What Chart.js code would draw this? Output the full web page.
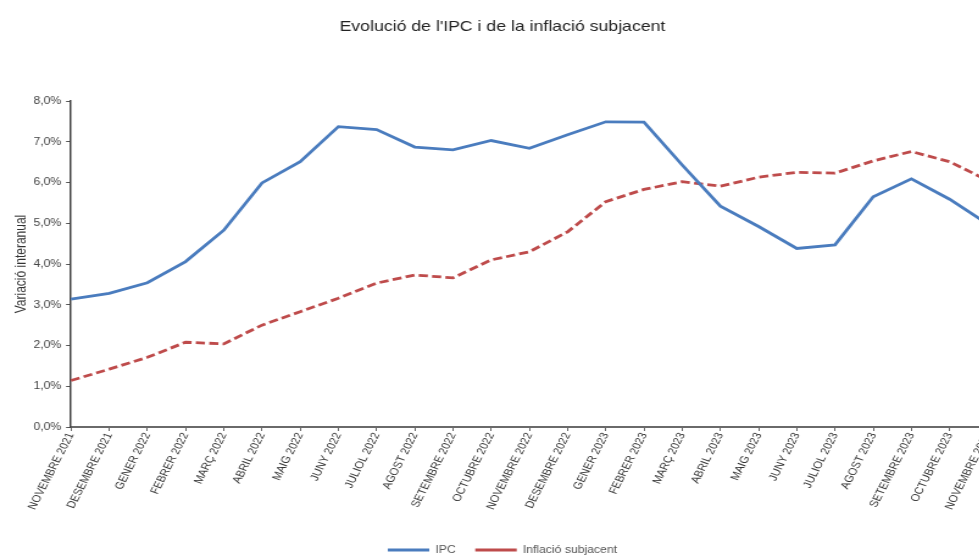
<!DOCTYPE html>
<html>
<head>
<meta charset="utf-8">
<script src="https://cdn.jsdelivr.net/npm/chart.js@4"></script>
<style>
  html, body { margin:0; padding:0; background:#fff; overflow:hidden; width:979px; height:557px; }
  #wrap { width:824px; height:557px; transform: scaleX(1.2195); transform-origin: 0 0; }
  #c { display:block; }
</style>
</head>
<body>
<div id="wrap"><canvas id="c" width="824" height="557"></canvas></div>
<script>
const categories = ['NOVEMBRE 2021','DESEMBRE 2021','GENER 2022','FEBRER 2022','MARÇ 2022','ABRIL 2022','MAIG 2022','JUNY 2022','JULIOL 2022','AGOST 2022','SETEMBRE 2022','OCTUBRE 2022','NOVEMBRE 2022','DESEMBRE 2022','GENER 2023','FEBRER 2023','MARÇ 2023','ABRIL 2023','MAIG 2023','JUNY 2023','JULIOL 2023','AGOST 2023','SETEMBRE 2023','OCTUBRE 2023','NOVEMBRE 2023'];
const ipc = [3.14,3.28,3.54,4.06,4.83,5.99,6.51,7.37,7.30,6.87,6.80,7.03,6.84,7.17,7.49,7.48,6.43,5.42,4.92,4.38,4.47,5.65,6.09,5.59,4.98];
const subjacent = [1.14,1.42,1.71,2.08,2.04,2.50,2.83,3.16,3.53,3.73,3.66,4.10,4.30,4.79,5.53,5.83,6.02,5.91,6.13,6.25,6.23,6.53,6.76,6.51,6.05];
const yTicks = [0,1,2,3,4,5,6,7,8];

const FONT = "'Liberation Sans', Arial, sans-serif";

new Chart(document.getElementById('c'), {
  type: 'line',
  data: {
    labels: categories,
    datasets: [
      { label: 'IPC', data: ipc, borderColor: '#4A7CBE', borderWidth: 2.8, pointRadius: 0, tension: 0, fill: false },
      { label: 'Inflació subjacent', data: subjacent, borderColor: '#BE4B4B', borderWidth: 2.8, borderDash: [7.5,3.5], pointRadius: 0, tension: 0, fill: false }
    ]
  },
  options: {
    responsive: false,
    animation: false,
    devicePixelRatio: 1,
    layout: { padding: { left: 0, right: 0, top: 0, bottom: -8 } },
    plugins: {
      title: {
        display: true,
        text: "Evolució de l'IPC i de la inflació subjacent",
        color: '#222',
        font: { family: FONT, size: 14.5, weight: 'normal' },
        padding: { top: 18, bottom: 65.6 }
      },
      legend: {
        position: 'bottom',
        labels: {
          usePointStyle: true,
          pointStyle: 'line',
          pointStyleWidth: 34,
          padding: 16,
          color: '#555',
          font: { family: FONT, size: 10 }
        }
      },
      tooltip: { enabled: false }
    },
    scales: {
      x: {
        offset: false,
        grid: { display: true, drawOnChartArea: false, drawTicks: true, tickLength: 4, color: '#666', lineWidth: 1 },
        border: { display: true, color: '#6a6a6a', width: 2 },
        ticks: {
          autoSkip: false, minRotation: 67, maxRotation: 67, padding: 0,
          color: '#333', font: { family: FONT, size: 10 }
        },
        afterFit: (s) => { s.height = 102; }
      },
      y: {
        min: 0, max: 8,
        afterBuildTicks: (s) => { s.ticks = yTicks.map(v => ({ value: v })); },
        grid: { display: true, drawOnChartArea: false, drawTicks: true, tickLength: 4, color: '#555', lineWidth: 1 },
        border: { display: true, color: '#444', width: 1.5 },
        ticks: {
          color: '#444', font: { family: FONT, size: 10 }, padding: 4,
          callback: (v) => v.toFixed(1).replace('.', ',') + '%'
        },
        title: {
          display: true, text: 'Variació interanual', color: '#333',
          font: { family: FONT, size: 12 }, padding: { top: 10, bottom: 0 }
        },
        afterFit: (s) => { s.width = 58.2; }
      },
      yR: {
        position: 'right',
        display: true,
        grid: { display: false, drawTicks: false },
        border: { display: false },
        ticks: { display: false },
        afterFit: (s) => { s.width = 14; }
      }
    }
  }
});
</script>
</body>
</html>
